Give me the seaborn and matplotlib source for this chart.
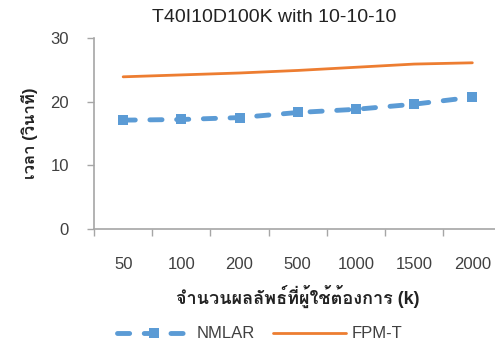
import matplotlib
matplotlib.use("Agg")
import matplotlib.pyplot as plt
from matplotlib import font_manager
from matplotlib.ticker import FixedLocator, NullFormatter
import numpy as np
import pandas as pd
import seaborn as sns

# Result sizes requested by the user (k)
k_labels = ["50", "100", "200", "500", "1000", "1500", "2000"]
# Run time in seconds
nmlar_time = [17.1, 17.2, 17.5, 18.3, 18.8, 19.6, 20.7]
fpmt_time = [23.9, 24.2, 24.5, 24.9, 25.4, 25.9, 26.1]

title_text = "T40I10D100K with 10-10-10"
xlabel_text = "จำนวนผลลัพธ์ที่ผู้ใช้ต้องการ (k)"
ylabel_text = "เวลา (วินาที)"


def find_thai_font():
    """Return the name of an installed family that covers Thai script."""
    try:
        from fontTools.ttLib import TTFont
    except Exception:
        return None
    for entry in font_manager.fontManager.ttflist:
        try:
            tt = TTFont(entry.fname, fontNumber=0, lazy=True)
            cmap = tt.getBestCmap() or {}
            if 0x0E08 in cmap and 0x0E27 in cmap:
                return entry.name
        except Exception:
            continue
    return None


sns.set_theme(style="white")
thai = find_thai_font()
families = ["Liberation Sans", "DejaVu Sans"]
if thai:
    families = ["Liberation Sans", thai, "DejaVu Sans"]
plt.rcParams["font.family"] = families

df = pd.DataFrame({
    "k": k_labels * 2,
    "time": nmlar_time + fpmt_time,
    "method": ["NMLAR"] * len(k_labels) + ["FPM-T"] * len(k_labels),
})

fig = plt.figure(figsize=(4.95, 3.45), dpi=100)
ax = fig.add_axes([0.190, 0.336, 0.823, 0.554])

blue = "#5B9BD5"
orange = "#ED7D31"

sns.lineplot(data=df[df.method == "NMLAR"], x="k", y="time", ax=ax,
             color=blue, linewidth=3.5, linestyle=(0, (2.5, 3.0)),
             dash_capstyle="round",
             marker="s", markersize=7, markeredgewidth=0, label="NMLAR",
             sort=False)
sns.lineplot(data=df[df.method == "FPM-T"], x="k", y="time", ax=ax,
             color=orange, linewidth=2.0, label="FPM-T", sort=False)

ax.set_xlim(-0.5, len(k_labels) - 0.5)
ax.set_ylim(0, 30)
ax.set_yticks([0, 10, 20, 30])

# Category labels sit under each point; tick marks fall between categories
ax.set_xticks(range(len(k_labels)))
ax.set_xticklabels(k_labels)
ax.xaxis.set_minor_locator(FixedLocator(np.arange(-0.5, len(k_labels), 1.0)))
ax.xaxis.set_minor_formatter(NullFormatter())

text_col = "#404040"
spine_col = "#A6A6A6"
ax.tick_params(axis="x", which="major", length=0, pad=20,
               labelsize=12, labelcolor=text_col)
ax.tick_params(axis="x", which="minor", length=5, width=1, color=spine_col,
               direction="out", bottom=True)
ax.tick_params(axis="y", length=5, width=1, color=spine_col, left=True,
               direction="out", pad=13, labelsize=12, labelcolor=text_col)

for side in ("top", "right"):
    ax.spines[side].set_visible(False)
for side in ("left", "bottom"):
    ax.spines[side].set_color(spine_col)
    ax.spines[side].set_linewidth(1.2)

# Title centred over the visible plot area rather than the full axes width
fig.text(274 / 495, 1 - 18 / 345, title_text, fontsize=14, color="#222222",
         ha="center", va="center")
ax.set_xlabel(xlabel_text, fontsize=13, fontweight="bold", color="#222222",
              labelpad=9)
ax.set_ylabel(ylabel_text, fontsize=12, fontweight="bold", color="#222222",
              labelpad=9)

handles, labels = ax.get_legend_handles_labels()
ax.get_legend().remove()
leg = fig.legend(handles, labels, loc="center",
                 bbox_to_anchor=(260 / 495, 1 - 334 / 345),
                 ncol=2, frameon=False, fontsize=12, handlelength=4.4,
                 columnspacing=1.1, handletextpad=0.35)
for t in leg.get_texts():
    t.set_color(text_col)

fig.savefig("out.png", dpi=100)
